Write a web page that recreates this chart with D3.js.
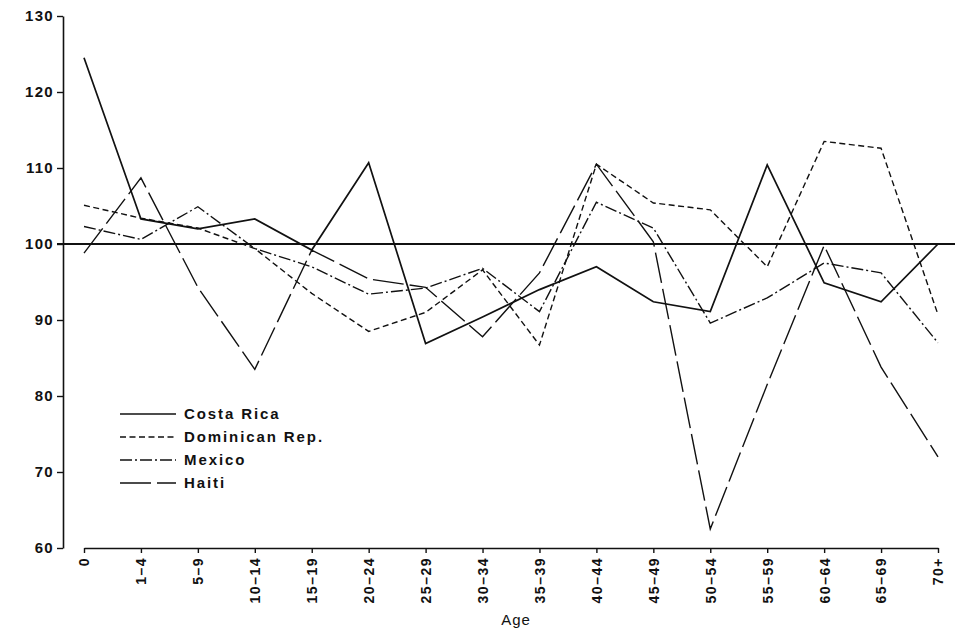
<!DOCTYPE html>
<html><head><meta charset="utf-8">
<script src="https://cdn.jsdelivr.net/npm/d3@7"></script>
<style>
body{margin:0;background:#fff;}
svg text{font-family:"Liberation Sans",Arial,Helvetica,sans-serif;fill:#111;}
</style></head>
<body><svg id="c" width="964" height="632"></svg>
<script>
const ages = ["0","1–4","5–9","10–14","15–19","20–24","25–29","30–34","35–39","40–44","45–49","50–54","55–59","60–64","65–69","70+"];
const yTicks = [60,70,80,90,100,110,120,130];
const costaRica   = [124.5,103.3,102.0,103.3,99.2,110.7,86.9,90.4,94.0,97.0,92.4,91.1,110.4,94.9,92.4,100.0];
const dominican   = [105.1,103.4,102.1,99.4,93.5,88.5,91.0,96.6,86.7,110.5,105.4,104.5,97.0,113.5,112.6,90.7];
const mexico      = [102.3,100.6,104.9,99.4,97.0,93.4,94.2,96.8,91.1,105.5,102.1,89.6,92.9,97.5,96.2,87.0];
const haiti       = [98.8,108.7,94.3,83.5,99.2,95.4,94.3,87.8,96.2,110.5,100.3,62.5,81.5,99.8,83.8,72.0];
const seriesNames = ["Costa Rica","Dominican Rep.","Mexico","Haiti"];
const seriesData  = [costaRica, dominican, mexico, haiti];
const dashes      = [null, "6,3.5", "12,3,2,3", "31,6"];

const svg = d3.select("#c");
const x = d3.scalePoint().domain(ages).range([84, 938]);
const y = d3.scaleLinear().domain([60,130]).range([548,16]);

// y axis
const ya = svg.append("g").attr("transform","translate(63,0)")
  .call(d3.axisLeft(y).tickValues(yTicks).tickSize(6).tickSizeOuter(0).tickPadding(3));
ya.select(".domain").attr("stroke","#111").attr("stroke-width",1.6);
ya.selectAll(".tick line").attr("stroke","#111").attr("stroke-width",1.4);
ya.selectAll(".tick text").attr("font-size",15).attr("letter-spacing","1.3px").attr("fill","#111").attr("font-weight","bold");

// x axis
const xa = svg.append("g").attr("transform","translate(0,548)")
  .call(d3.axisBottom(x).tickSize(5).tickSizeOuter(0));
xa.select(".domain").attr("stroke","#111").attr("stroke-width",1.6);
xa.selectAll(".tick line").attr("stroke","#111").attr("stroke-width",1.4);
xa.selectAll(".tick text")
  .attr("transform","rotate(-90)")
  .attr("text-anchor","end")
  .attr("x",-9).attr("y",0).attr("dy","0.35em")
  .attr("font-size",14).attr("letter-spacing","1.5px").attr("font-weight","bold").attr("fill","#111");

svg.append("text").attr("x",516).attr("y",625).attr("text-anchor","middle")
  .attr("font-size",15).attr("letter-spacing","1px").text("Age");

// reference line at 100
svg.append("line").attr("x1",57).attr("x2",955).attr("y1",y(100)).attr("y2",y(100))
  .attr("stroke","#111").attr("stroke-width",2.2);

// series lines
const line = d3.line().x((d,i)=>x(ages[i])).y(d=>y(d));
seriesData.forEach((s,k)=>{
  svg.append("path").datum(s).attr("d",line).attr("fill","none")
    .attr("stroke","#111").attr("stroke-width",k===0?1.7:1.4)
    .attr("stroke-dasharray",dashes[k]).attr("stroke-linejoin","miter");
});

// legend
const lg = svg.append("g");
seriesNames.forEach((n,k)=>{
  const yy = 414 + k*23;
  lg.append("line").attr("x1",120).attr("x2",176).attr("y1",yy).attr("y2",yy)
    .attr("stroke","#111").attr("stroke-width",1.5).attr("stroke-dasharray",dashes[k]);
  lg.append("text").attr("x",184).attr("y",yy).attr("dy","0.36em")
    .attr("font-size",15).attr("letter-spacing","1.9px").attr("font-weight","bold").text(n);
});
</script></body></html>
